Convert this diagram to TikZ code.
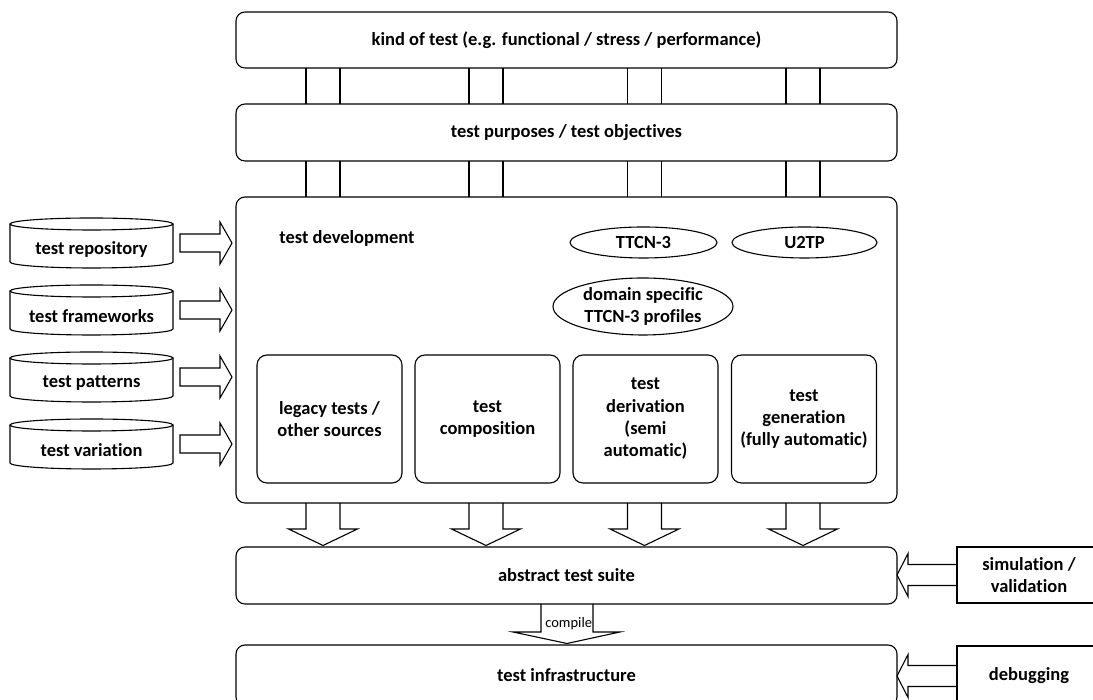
\documentclass[tikz,border=0pt]{standalone}
\usepackage{fontspec}
\setmainfont{Carlito}[Ligatures=NoCommon]
\usetikzlibrary{calc,shapes.geometric}

% drum outline around a (undrawn) node: full top ellipse, half bottom ellipse
\newcommand\drum[1]{%
  \draw ([yshift=-6pt]#1.north) ellipse [x radius=81.5pt, y radius=6pt];
  \draw ([yshift=-6pt]#1.north west) -- ([yshift=6pt]#1.south west)
    arc [start angle=180, end angle=360, x radius=81.5pt, y radius=6pt]
    -- ([yshift=-6pt]#1.north east);}

% hollow block arrow pointing right, from node #1 to node #2
\newcommand\blockright[2]{%
  \draw let \p1=(#1.east), \p2=(#2.west) in
    (\x1+7pt,\y1+9pt) -- (\x2-16pt,\y1+9pt) -- (\x2-16pt,\y1+21pt)
    -- (\x2-4pt,\y1) -- (\x2-16pt,\y1-21pt) -- (\x2-16pt,\y1-9pt)
    -- (\x1+7pt,\y1-9pt) -- cycle;}

% hollow block arrow pointing left, from node #1 to node #2
\newcommand\blockleft[2]{%
  \draw let \p1=(#1.west), \p2=(#2.east) in
    (\x1,\y1+10.5pt) -- (\x2+11pt,\y1+10.5pt) -- (\x2+11pt,\y1+21.5pt)
    -- (\x2,\y1) -- (\x2+11pt,\y1-21.5pt) -- (\x2+11pt,\y1-10.5pt)
    -- (\x1,\y1-10.5pt);}

% hollow block arrow pointing down at x=#1, from node #2 to node #3
\newcommand\blockdown[3]{%
  \edef\bdx{#1}%
  \draw let \p1=(#2.south), \p2=(#3.north) in
    (\bdx pt-17pt,\y1) -- (\bdx pt-17pt,\y2+18pt) -- (\bdx pt-34.5pt,\y2+18pt)
    -- (\bdx pt,\y2+1.5pt) -- (\bdx pt+34.5pt,\y2+18pt) -- (\bdx pt+17pt,\y2+18pt)
    -- (\bdx pt+17pt,\y1);}

% pair of parallel lines joining two stacked boxes, centred at x=#1
\newcommand\pipe[3]{%
  \draw (#2.south -| #1pt-17pt,0) -- (#3.north -| #1pt-17pt,0);
  \draw (#2.south -| #1pt+17pt,0) -- (#3.north -| #1pt+17pt,0);}

\begin{document}
\begin{tikzpicture}[x=1pt,y=1pt,line width=1.1pt,
  font=\bfseries\fontsize{18.5}{22.3}\selectfont,
  every node/.style={outer sep=0pt},
  box/.style={draw, rounded corners=9pt, minimum width=661pt, inner sep=0pt},
  inbox/.style={draw, rounded corners=10pt, minimum width=145pt,
    minimum height=128pt, align=center, inner sep=0pt},
  oval/.style={draw, ellipse, inner sep=0pt, align=center},
  drumbody/.style={minimum width=163pt, minimum height=50pt, inner sep=0pt},
  side/.style={draw, minimum width=144pt, minimum height=56pt, align=center, inner sep=0pt}]
\useasboundingbox (0,0) rectangle (1093,700);
\clip (0,0) rectangle (1093,700);

% main column
\node[box, minimum height=56pt] (kind) at (566.5,660) {kind of test (e.g. functional / stress / performance)};
\node[box, minimum height=57pt] (purp) at (566.5,567.5) {test purposes / test objectives};
\node[box, minimum height=306pt] (dev) at (566.5,350) {};
\node[box, minimum height=57pt] (ats) at (566.5,124.5) {abstract test suite};
\node[box, minimum height=61pt] (infra) at (566.5,24.5) {test infrastructure};

\node[anchor=west] (devlabel) at (276,462) {test development};

% notations
\node[oval, minimum width=147pt, minimum height=31pt] (ttcn) at (643.5,457.5) {TTCN-3};
\node[oval, minimum width=145pt, minimum height=31pt] (u2tp) at (804.5,457.5) {U2TP};
\node[oval, minimum width=180pt, minimum height=57pt] (dsp) at (643,393.5) {domain specific\\TTCN-3 profiles};

% development approaches
\node[inbox] (legacy) at (329.5,281) {legacy tests /\\other sources};
\node[inbox] (compo) at (487.5,281) {test\\composition};
\node[inbox] (deriv) at (645.5,281) {test\\derivation\\(semi\\automatic)};
\node[inbox] (gener) at (804,281) {test\\generation\\(fully automatic)};

% sources on the left
\node[drumbody] (repo) at (91.5,457) {};
\node[drumbody] (frame) at (91.5,390) {};
\node[drumbody] (patt) at (91.5,323) {};
\node[drumbody] (vari) at (91.5,256) {};
\drum{repo}\drum{frame}\drum{patt}\drum{vari}
\node (repot) at ([yshift=-6pt]repo.center) {test repository};
\node (framet) at ([yshift=-6pt]frame.center) {test frameworks};
\node (pattt) at ([yshift=-6pt]patt.center) {test patterns};
\node (varit) at ([yshift=-6pt]vari.center) {test variation};
\blockright{repo}{dev}
\blockright{frame}{dev}
\blockright{patt}{dev}
\blockright{vari}{dev}

% tools on the right
\node[side] (sim) at (1029,125) {simulation /\\validation};
\node[side, minimum height=60pt] (debug) at (1029,24) {debugging};
\blockleft{sim}{ats}
\blockleft{debug}{infra}

% links between the levels
\foreach \cx in {323,486,644.5,803} {
  \pipe{\cx}{kind}{purp}
  \pipe{\cx}{purp}{dev}
  \blockdown{\cx}{dev}{ats}
}

% compile step
\draw let \p1=(ats.south), \p2=(infra.north) in
  (541pt,\y1) -- (541pt,\y2+13pt) -- (513pt,\y2+13pt) -- (567pt,\y2+1.5pt)
  -- (620pt,\y2+13pt) -- (593pt,\y2+13pt) -- (593pt,\y1);
\node[font=\fontsize{14.5}{16}\selectfont, anchor=west] (compile) at (542,76) {compile};
\end{tikzpicture}
\end{document}
